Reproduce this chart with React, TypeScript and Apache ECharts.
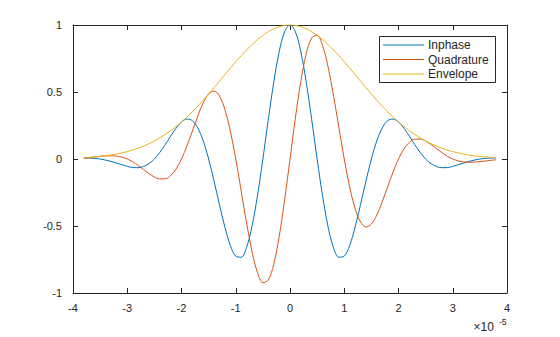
import React, { useEffect, useRef } from "react";
import * as echarts from "echarts";

// time in units of 1e-5 s
const timeScaled = [
  -3.8, -3.7, -3.6, -3.5, -3.4, -3.3, -3.2, -3.1, -3.0, -2.9, -2.8, -2.7, -2.6,
  -2.5, -2.4, -2.3, -2.2, -2.1, -2.0, -1.9, -1.8, -1.7, -1.6, -1.5, -1.4, -1.3,
  -1.2, -1.1, -1.0, -0.9, -0.8, -0.7, -0.6, -0.5, -0.4, -0.3, -0.2, -0.1, 0.0,
  0.1, 0.2, 0.3, 0.4, 0.5, 0.6, 0.7, 0.8, 0.9, 1.0, 1.1, 1.2, 1.3, 1.4, 1.5,
  1.6, 1.7, 1.8, 1.9, 2.0, 2.1, 2.2, 2.3, 2.4, 2.5, 2.6, 2.7, 2.8, 2.9, 3.0,
  3.1, 3.2, 3.3, 3.4, 3.5, 3.6, 3.7, 3.8,
];

const inphase = [
  0.008, 0.007, 0.005, 0.0, -0.008, -0.018, -0.03, -0.043, -0.055, -0.064,
  -0.065, -0.056, -0.035, 0.0, 0.049, 0.107, 0.171, 0.23, 0.277, 0.298, 0.286,
  0.232, 0.136, 0.0, -0.165, -0.341, -0.509, -0.645, -0.725, -0.733, -0.659,
  -0.502, -0.275, 0.0, 0.294, 0.571, 0.799, 0.948, 1.0,
  0.948, 0.799, 0.571, 0.294, 0.0, -0.275, -0.502, -0.659, -0.733, -0.725,
  -0.645, -0.509, -0.341, -0.165, 0.0, 0.136, 0.232, 0.286, 0.298, 0.277, 0.23,
  0.171, 0.107, 0.049, 0.0, -0.035, -0.056, -0.065, -0.064, -0.055, -0.043,
  -0.03, -0.018, -0.008, 0.0, 0.005, 0.007, 0.008,
];

const quadrature = [
  0.006, 0.01, 0.015, 0.02, 0.023, 0.024, 0.022, 0.014, 0.0, -0.021, -0.047,
  -0.078, -0.108, -0.134, -0.149, -0.148, -0.124, -0.075, 0.0, 0.097, 0.207,
  0.32, 0.418, 0.485, 0.507, 0.47, 0.37, 0.209, 0.0, -0.238, -0.478, -0.691,
  -0.847, -0.923, -0.903, -0.786, -0.58, -0.308, 0.0,
  0.308, 0.58, 0.786, 0.903, 0.923, 0.847, 0.691, 0.478, 0.238, 0.0, -0.209,
  -0.37, -0.47, -0.507, -0.485, -0.418, -0.32, -0.207, -0.097, 0.0, 0.075,
  0.124, 0.148, 0.149, 0.134, 0.108, 0.078, 0.047, 0.021, 0.0, -0.014, -0.022,
  -0.024, -0.023, -0.02, -0.015, -0.01, -0.006,
];

const envelope = [
  0.01, 0.012, 0.016, 0.02, 0.024, 0.03, 0.037, 0.046, 0.055, 0.067, 0.081,
  0.096, 0.114, 0.134, 0.157, 0.183, 0.211, 0.242, 0.277, 0.313, 0.353, 0.395,
  0.439, 0.485, 0.533, 0.581, 0.63, 0.678, 0.725, 0.771, 0.814, 0.854, 0.891,
  0.923, 0.95, 0.972, 0.987, 0.997, 1.0,
  0.997, 0.987, 0.972, 0.95, 0.923, 0.891, 0.854, 0.814, 0.771, 0.725, 0.678,
  0.63, 0.581, 0.533, 0.485, 0.439, 0.395, 0.353, 0.313, 0.277, 0.242, 0.211,
  0.183, 0.157, 0.134, 0.114, 0.096, 0.081, 0.067, 0.055, 0.046, 0.037, 0.03,
  0.024, 0.02, 0.016, 0.012, 0.01,
];

const seriesNames = ["Inphase", "Quadrature", "Envelope"];
const seriesColors = ["#0072BD", "#D95319", "#EDB120"];
const xRange = [-4, 4];
const yRange = [-1, 1];
const exponentBase = "×10";
const exponentPower = "-5";

const FONT = "'Liberation Sans', Arial, Helvetica, sans-serif";
const INK = "#262626";

export default function App() {
  const ref = useRef<HTMLDivElement>(null);

  useEffect(() => {
    document.body.style.margin = "0";
    if (!ref.current) return;
    const chart = echarts.init(ref.current, null, { renderer: "svg" });

    const gridLeft = 73;
    const gridTop = 25;
    const gridW = 434;
    const gridH = 268;

    const labelStyle = {
      fontSize: 11,
      color: INK,
      fontFamily: FONT,
      formatter: (v: number) => String(v),
    };

    const axisCommon = (showLabel: boolean) => ({
      type: "value" as const,
      axisLine: { show: true, onZero: false, lineStyle: { color: INK, width: 1 } },
      axisTick: { show: true, inside: true, length: 5, lineStyle: { color: INK, width: 1 } },
      axisLabel: { show: showLabel, ...labelStyle },
      splitLine: { show: false },
    });

    const allSeries = [inphase, quadrature, envelope];

    const legendX = 379.5;
    const legendY = 36.5;
    const legendRows = [45, 59.5, 74];

    const legendChildren: any[] = [
      {
        type: "rect",
        shape: { x: legendX, y: legendY, width: 116, height: 46 },
        style: { fill: "#ffffff", stroke: INK, lineWidth: 1 },
      },
    ];
    seriesNames.forEach((name, i) => {
      legendChildren.push({
        type: "line",
        shape: { x1: 383, y1: legendRows[i], x2: 424, y2: legendRows[i] },
        style: { stroke: seriesColors[i], lineWidth: 1 },
      });
      legendChildren.push({
        type: "text",
        x: 428,
        y: legendRows[i],
        style: {
          text: name,
          fontSize: 12,
          fontFamily: FONT,
          fill: INK,
          verticalAlign: "middle",
          align: "left",
        },
      });
    });

    chart.setOption({
      animation: false,
      backgroundColor: "#ffffff",
      grid: { left: gridLeft, top: gridTop, width: gridW, height: gridH, containLabel: false },
      xAxis: [
        {
          ...axisCommon(true),
          position: "bottom",
          min: xRange[0],
          max: xRange[1],
          interval: 1,
          axisLabel: { ...labelStyle, margin: 9 },
        },
        { ...axisCommon(false), position: "top", min: xRange[0], max: xRange[1], interval: 1 },
      ],
      yAxis: [
        {
          ...axisCommon(true),
          position: "left",
          min: yRange[0],
          max: yRange[1],
          interval: 0.5,
          axisLabel: { ...labelStyle, margin: 11 },
        },
        { ...axisCommon(false), position: "right", min: yRange[0], max: yRange[1], interval: 0.5 },
      ],
      series: allSeries.map((vals, i) => ({
        name: seriesNames[i],
        type: "line",
        xAxisIndex: 0,
        yAxisIndex: 0,
        showSymbol: false,
        symbol: "none",
        smooth: 0.35,
        z: 2 + i,
        lineStyle: { color: seriesColors[i], width: 1 },
        itemStyle: { color: seriesColors[i] },
        data: timeScaled.map((t, k) => [t, vals[k]]),
      })),
      graphic: [
        { type: "group", z: 100, children: legendChildren },
        {
          type: "text",
          x: 473.5,
          y: 326.5,
          style: {
            text: exponentBase,
            fontSize: 12,
            fontFamily: FONT,
            fill: INK,
            verticalAlign: "middle",
            align: "left",
          },
        },
        {
          type: "text",
          x: 499,
          y: 322,
          style: {
            text: exponentPower,
            fontSize: 8.5,
            fontFamily: FONT,
            fill: INK,
            verticalAlign: "middle",
            align: "left",
          },
        },
      ],
    });

    return () => chart.dispose();
  }, []);

  return <div ref={ref} style={{ width: 560, height: 337 }} />;
}
